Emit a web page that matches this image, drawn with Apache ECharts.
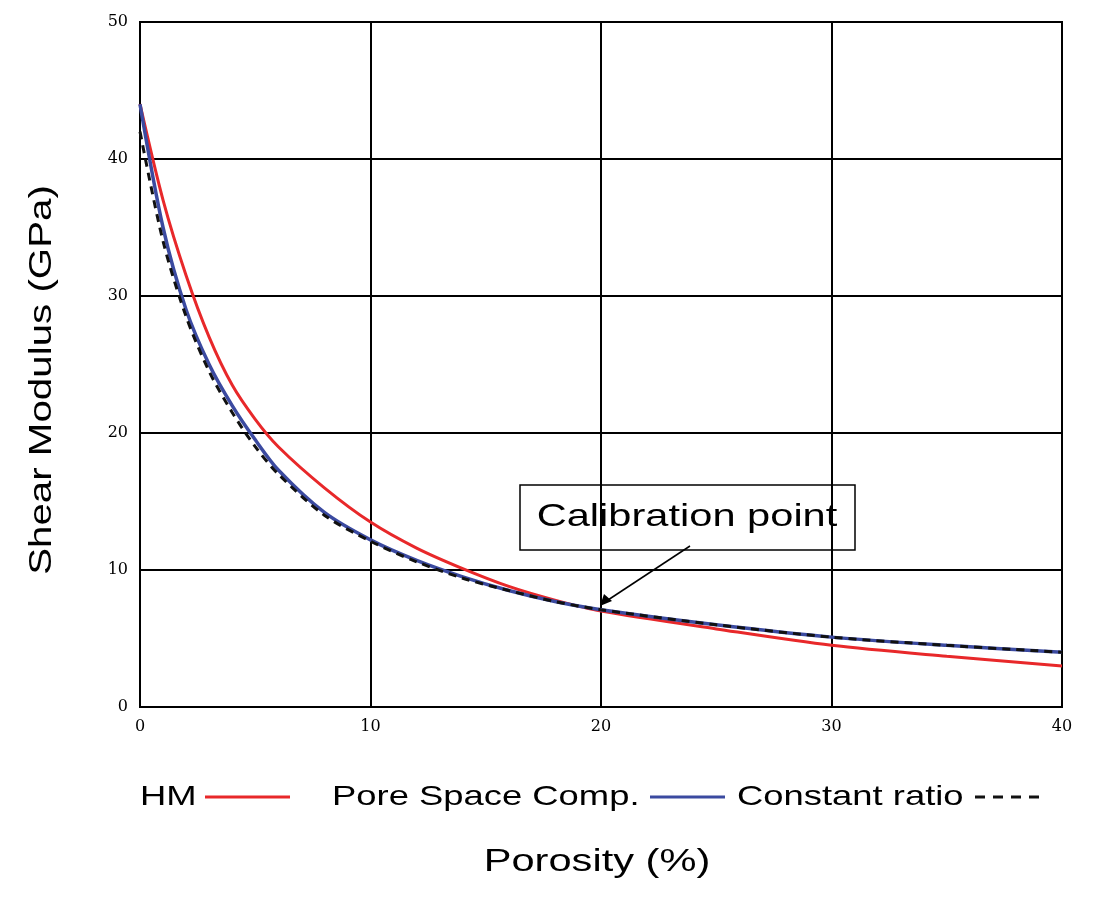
<!DOCTYPE html>
<html><head><meta charset="utf-8">
<script src="https://cdn.jsdelivr.net/npm/echarts@6/dist/echarts.min.js"></script>
<style>html,body{margin:0;background:#fff}#c{width:1100px;height:900px}</style>
</head><body><div id="c"></div>
<script>
const porosity = [0,1,2,3,4,5,6,8,10,12,14,16,18,20,25,30,35,40];
const hm       = [44,37,31.5,27,23.5,21,19,16,13.5,11.6,10.1,8.8,7.8,7.0,5.7,4.5,3.7,3.0];
const pore     = [44,35,29,25,22,19.5,17.3,14.2,12.2,10.7,9.5,8.5,7.7,7.1,6.0,5.1,4.5,4.0];
const constant = [42,34,28.5,24.5,21.5,19,17,14,12.1,10.6,9.4,8.5,7.7,7.1,6.0,5.1,4.5,4.0];
const xTicks = [0,10,20,30,40];
const yTicks = [0,10,20,30,40,50];
const pair = a => porosity.map((x,i)=>[x,a[i]]);
const chart = echarts.init(document.getElementById('c'));
const axisLine = {show:true,lineStyle:{color:'#000',width:2}};
chart.setOption({
  animation:false,
  grid:{left:140,right:38,top:22,bottom:193,show:true,borderColor:'#000',borderWidth:2},
  xAxis:{type:'value',min:0,max:40,interval:10,axisLine,axisTick:{show:false},
    splitLine:{lineStyle:{color:'#000',width:2}},
    axisLabel:{fontFamily:'DejaVu Serif',fontSize:16,color:'#000',margin:12}},
  yAxis:{type:'value',min:0,max:50,interval:10,axisLine,axisTick:{show:false},
    splitLine:{lineStyle:{color:'#000',width:2}},
    axisLabel:{fontFamily:'DejaVu Serif',fontSize:16,color:'#000',margin:12}},
  series:[
    {type:'line',data:pair(hm),smooth:0.3,symbol:'none',lineStyle:{color:'#e8282a',width:3}},
    {type:'line',data:pair(pore),smooth:0.3,symbol:'none',lineStyle:{color:'#3b4aa0',width:3.5}},
    {type:'line',data:pair(constant),smooth:0.3,symbol:'none',lineStyle:{color:'#111',width:3,type:[8,6]}}
  ],
  graphic:[
    {type:'text',x:42,y:380,rotation:Math.PI/2,scaleX:1.3,style:{text:'Shear Modulus (GPa)',font:'31px Arial',fill:'#000',align:'center',verticalAlign:'middle'}},
    {type:'text',x:597,y:862,scaleX:1.3,style:{text:'Porosity (%)',font:'32px Arial',fill:'#000',align:'center',verticalAlign:'middle'}},
    {type:'rect',shape:{x:520,y:485,width:335,height:65},style:{fill:'#fff',stroke:'#000',lineWidth:1.5}},
    {type:'text',x:687,y:517,scaleX:1.3,style:{text:'Calibration point',font:'32px Arial',fill:'#000',align:'center',verticalAlign:'middle'}},
    {type:'line',shape:{x1:690,y1:546,x2:608,y2:600},style:{stroke:'#000',lineWidth:1.5}},
    {type:'polygon',shape:{points:[[600,606],[604,594],[612,601]]},style:{fill:'#000'}},
    {type:'text',x:140,y:797,scaleX:1.3,style:{text:'HM',font:'28px Arial',fill:'#000',verticalAlign:'middle'}},
    {type:'line',shape:{x1:205,y1:797,x2:290,y2:797},style:{stroke:'#e8282a',lineWidth:3}},
    {type:'text',x:332,y:797,scaleX:1.3,style:{text:'Pore Space Comp.',font:'28px Arial',fill:'#000',verticalAlign:'middle'}},
    {type:'line',shape:{x1:650,y1:797,x2:725,y2:797},style:{stroke:'#3b4aa0',lineWidth:3}},
    {type:'text',x:737,y:797,scaleX:1.3,style:{text:'Constant ratio',font:'28px Arial',fill:'#000',verticalAlign:'middle'}},
    {type:'line',shape:{x1:975,y1:797,x2:1045,y2:797},style:{stroke:'#111',lineWidth:3,lineDash:[10,8]}}
  ]
});
</script></body></html>
